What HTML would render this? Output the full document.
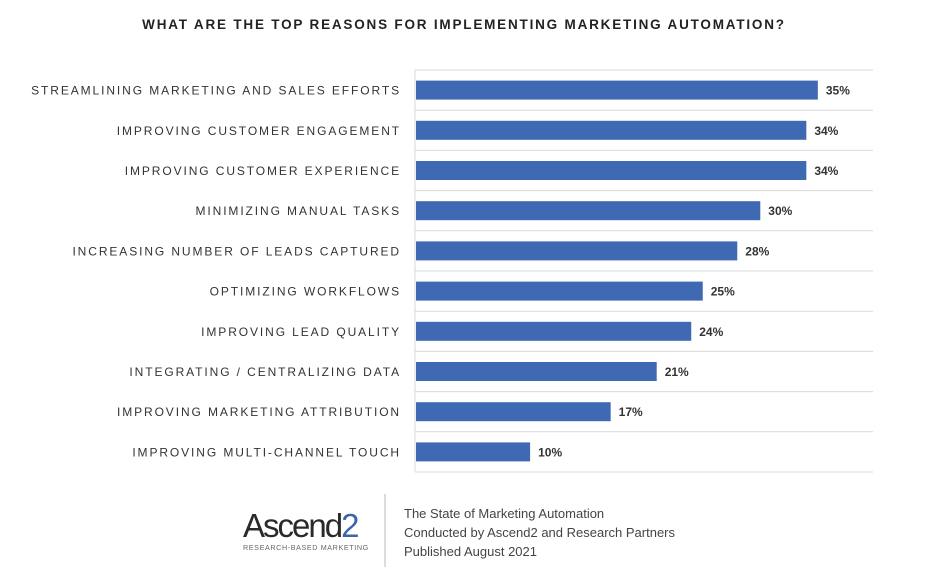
<!DOCTYPE html>
<html><head><meta charset="utf-8"><style>
body{margin:0;width:936px;height:572px;background:#fff;font-family:"Liberation Sans",sans-serif;overflow:hidden}
</style></head><body>
<svg width="936" height="572">
<text x="464" y="29" text-anchor="middle" font-size="13.5" font-weight="bold" letter-spacing="1.8" fill="#222">WHAT ARE THE TOP REASONS FOR IMPLEMENTING MARKETING AUTOMATION?</text>
<g id="grid"></g><g id="bars"></g>
<line x1="385" y1="494" x2="385" y2="567" stroke="#bbb"/>
<g>
<text x="243" y="537" font-size="33" font-family="Liberation Sans" letter-spacing="-2" fill="#2a2a2a">Ascend<tspan fill="#3b63ae">2</tspan></text>
<text x="243" y="550" font-size="7.2" letter-spacing="0.6" fill="#666">RESEARCH-BASED MARKETING</text>
</g>
<g font-size="13" fill="#444">
<text x="404" y="518">The State of Marketing Automation</text>
<text x="404" y="537">Conducted by Ascend2 and Research Partners</text>
<text x="404" y="556">Published August 2021</text>
</g>
</svg>
<script>
const categories=["STREAMLINING MARKETING AND SALES EFFORTS","IMPROVING CUSTOMER ENGAGEMENT","IMPROVING CUSTOMER EXPERIENCE","MINIMIZING MANUAL TASKS","INCREASING NUMBER OF LEADS CAPTURED","OPTIMIZING WORKFLOWS","IMPROVING LEAD QUALITY","INTEGRATING / CENTRALIZING DATA","IMPROVING MARKETING ATTRIBUTION","IMPROVING MULTI-CHANNEL TOUCH"];
const values=[35,34,34,30,28,25,24,21,17,10];
const NS="http://www.w3.org/2000/svg";
const x0=415,pxPer=11.51,top0=70,rowH=40.2,right=873,barH=19;
const xs=v=>x0+v*pxPer, ys=i=>top0+i*rowH;
const grid=document.getElementById('grid'),bars=document.getElementById('bars');
function mk(t,a,p){const e=document.createElementNS(NS,t);for(const k in a)e.setAttribute(k,a[k]);p.appendChild(e);return e;}
for(let i=0;i<=categories.length;i++){
 const l=mk('line',{x1:x0,x2:right,y1:ys(i),y2:ys(i),stroke:'#d9d9d9'},grid);
 
 
}
const ax=mk('line',{x1:x0,x2:x0,y1:ys(0),y2:ys(categories.length),stroke:'#d9d9d9'},grid);


categories.forEach((c,i)=>{
 const cy=ys(i)+rowH/2;
 const r=mk('rect',{x:x0+1,y:cy-barH/2,width:xs(values[i])-x0-1,height:barH,fill:'#3f69b2'},bars);
 
 
 const t=mk('text',{x:401,y:cy+4.5,'text-anchor':'end','font-size':'12','letter-spacing':'1.9',fill:'#333'},bars);
 t.textContent=c;
 
 
 const v=mk('text',{x:xs(values[i])+8,y:cy+4.5,'font-size':'12','font-weight':'bold',fill:'#333'},bars);
 v.textContent=values[i]+'%';
 
 
});
</script>
</body></html>
